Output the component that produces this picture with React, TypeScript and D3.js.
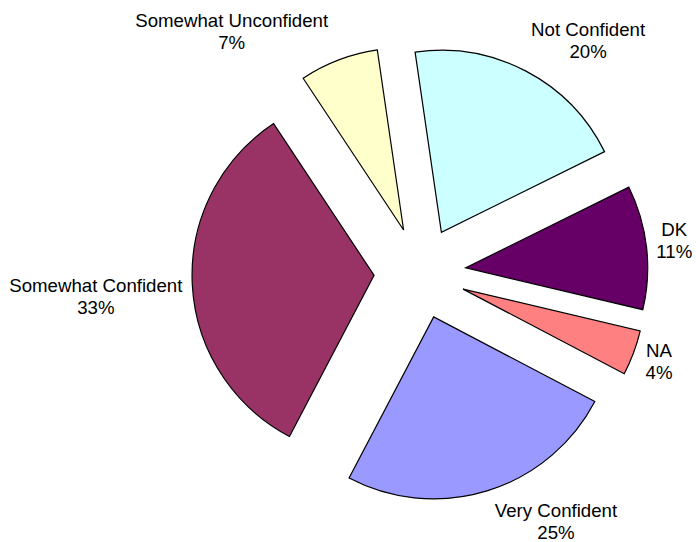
import React from "react";
import * as d3 from "d3";

// chart values
const categories = ["Not Confident", "DK", "NA", "Very Confident", "Somewhat Confident", "Somewhat Unconfident"];
const shares = [20, 11, 4, 25, 33, 7];
const sliceColors = ["#CCFFFF", "#660066", "#FF8080", "#9999FF", "#993366", "#FFFFCC"];

const width = 696;
const height = 542;
const cx = 420;
const cy = 273;
const radius = 182;
const explode = 46;
const labelGap = 10;
const fontSize = 18.67;
const lineHeight = 22;
const font = `${fontSize}px "Liberation Sans", Arial, sans-serif`;

// hand placed offsets, like Excel moves the labels around
const labelNudge: Record<string, [number, number]> = {
  "Not Confident": [31, -3],
  DK: [0, -3.5],
  NA: [3.5, -3],
  "Very Confident": [47, 0],
  "Somewhat Confident": [0, 10],
  "Somewhat Unconfident": [-69, 1],
};

let ctx: CanvasRenderingContext2D | null = null;
const textWidth = (s: string) => {
  if (!ctx) ctx = document.createElement("canvas").getContext("2d");
  if (!ctx) return s.length * fontSize * 0.55;
  ctx.font = font;
  return ctx.measureText(s).width;
};

const App = () => {
  const data = categories.map((c, i) => ({ name: c, value: shares[i], color: sliceColors[i] }));

  const startAngle = (-8.3 * Math.PI) / 180;
  const pie = d3
    .pie<{ name: string; value: number; color: string }>()
    .sort(null)
    .value((d) => d.value)
    .startAngle(startAngle)
    .endAngle(startAngle + 2 * Math.PI);

  const arc = d3
    .arc<d3.PieArcDatum<{ name: string; value: number; color: string }>>()
    .innerRadius(0)
    .outerRadius(radius);

  const arcs = pie(data);

  return (
    <svg
      width={width}
      height={height}
      style={{ position: "absolute", left: 0, top: 0, background: "#fff" }}
    >
      <g transform={`translate(${cx},${cy})`}>
        {arcs.map((a) => {
          const mid = (a.startAngle + a.endAngle) / 2;
          const ox = explode * Math.sin(mid);
          const oy = -explode * Math.cos(mid);
          return (
            <path
              key={a.data.name}
              d={arc(a) || ""}
              transform={`translate(${ox},${oy})`}
              fill={a.data.color}
              stroke="#000"
              strokeWidth={1.2}
              strokeLinejoin="miter"
            />
          );
        })}
        {arcs.map((a) => {
          const mid = (a.startAngle + a.endAngle) / 2;
          const s = Math.sin(mid);
          const c = Math.cos(mid);
          const pct = `${a.data.value}%`;
          const w = Math.max(textWidth(a.data.name), textWidth(pct));
          const R = radius + explode + labelGap;
          const nudge = labelNudge[a.data.name] || [0, 0];
          const bx = R * s + (s * w) / 2 + nudge[0];
          const by = -R * c - c * lineHeight + nudge[1];
          const b1 = by - 4.3;
          return (
            <text
              key={a.data.name + "-label"}
              x={bx}
              y={b1}
              textAnchor="middle"
              fontFamily='"Liberation Sans", Arial, sans-serif'
              fontSize={fontSize}
              fill="#000"
            >
              <tspan x={bx} y={b1}>
                {a.data.name}
              </tspan>
              <tspan x={bx} y={b1 + lineHeight}>
                {pct}
              </tspan>
            </text>
          );
        })}
      </g>
    </svg>
  );
};

export default App;
